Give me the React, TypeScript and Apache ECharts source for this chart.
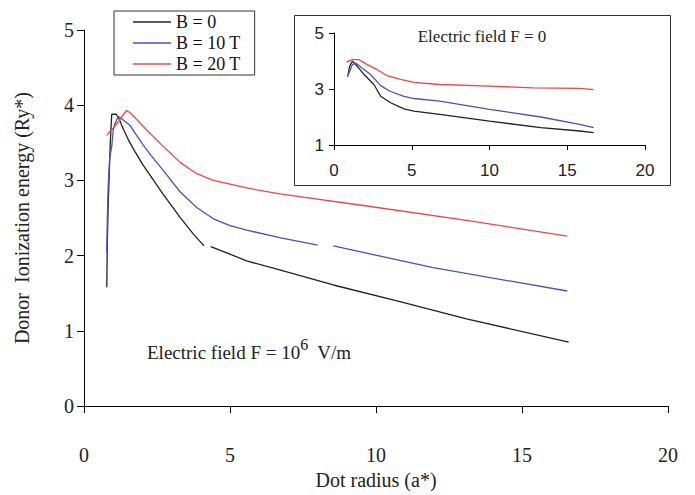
import React, { useEffect, useRef } from "react";
import * as echarts from "echarts";

// ---- Main chart data (Electric field F = 10^6 V/m) ----
const mainB0X = [0.78, 0.8, 0.83, 0.86, 0.9, 0.95, 1.1, 1.2, 1.35, 1.52, 1.75, 2.03, 2.26, 2.72, 3.29, 3.74, 4.11, 4.22, 4.34, 5.0, 5.57, 6.7, 8.54, 10.82, 13.1, 16.6];
const mainB0Y = [1.58, 2.2, 2.7, 3.03, 3.5, 3.88, 3.88, 3.82, 3.68, 3.54, 3.38, 3.2, 3.07, 2.81, 2.51, 2.29, 2.13, null, 2.12, 2.02, 1.93, 1.81, 1.61, 1.39, 1.16, 0.85];

const mainB10X = [0.78, 0.8, 0.83, 0.88, 0.95, 1.0, 1.06, 1.17, 1.29, 1.58, 1.75, 2.03, 2.3, 2.72, 3.29, 3.86, 4.43, 5.0, 5.57, 6.7, 8.0, 8.27, 8.54, 11.96, 16.55];
const mainB10Y = [2.04, 2.5, 2.94, 3.3, 3.45, 3.67, 3.75, 3.85, 3.82, 3.73, 3.63, 3.47, 3.33, 3.13, 2.85, 2.64, 2.49, 2.4, 2.34, 2.24, 2.14, null, 2.13, 1.84, 1.53];

const mainB20X = [0.78, 1.12, 1.3, 1.46, 1.58, 2.15, 2.72, 3.29, 3.86, 4.43, 5.0, 5.57, 6.7, 9.68, 13.1, 16.55];
const mainB20Y = [3.6, 3.75, 3.85, 3.93, 3.9, 3.67, 3.45, 3.24, 3.09, 3.0, 2.95, 2.9, 2.82, 2.66, 2.47, 2.26];

// ---- Inset data (Electric field F = 0) ----
const insetB0X = [0.9, 1.0, 1.18, 1.5, 1.93, 2.57, 3.0, 3.64, 4.5, 5.13, 6.8, 10, 13.3, 15.8, 16.7];
const insetB0Y = [3.5, 3.8, 3.99, 3.81, 3.52, 3.16, 2.74, 2.51, 2.29, 2.21, 2.09, 1.85, 1.62, 1.5, 1.44];

const insetB10X = [0.86, 1.18, 1.4, 1.8, 2.35, 3.0, 3.6, 4.5, 5.13, 6.8, 10, 13.3, 15.8, 16.7];
const insetB10Y = [3.43, 3.87, 3.93, 3.75, 3.52, 3.12, 2.92, 2.74, 2.66, 2.57, 2.27, 2.0, 1.74, 1.62];

const insetB20X = [0.81, 1.18, 1.6, 2.14, 2.78, 3.4, 4.28, 5.13, 6.8, 10, 12.8, 15.8, 16.7];
const insetB20Y = [3.96, 4.05, 4.05, 3.87, 3.69, 3.48, 3.34, 3.24, 3.16, 3.1, 3.04, 3.02, 2.98];

const seriesNames = ["B = 0", "B = 10 T", "B = 20 T"];
const seriesColors = ["#222222", "#4a50bd", "#f04545"];

const SERIF = "'Liberation Serif', 'Times New Roman', serif";
const SANS = "'Liberation Sans', Arial, sans-serif";

function zip(xs: number[], ys: (number | null)[]) {
  return xs.map((x, i) => [x, ys[i] === null ? "-" : ys[i]]);
}

export default function App() {
  const ref = useRef<HTMLDivElement>(null);
  useEffect(() => {
    if (!ref.current) return;
    const chart = echarts.init(ref.current, undefined, { renderer: "svg" });
    const mainData = [zip(mainB0X, mainB0Y), zip(mainB10X, mainB10Y), zip(mainB20X, mainB20Y)];
    const insetData = [zip(insetB0X, insetB0Y), zip(insetB10X, insetB10Y), zip(insetB20X, insetB20Y)];
    const lineSeries = (name: string, data: any[], color: string, idx: number) => ({
      type: "line",
      name,
      data,
      xAxisIndex: idx,
      yAxisIndex: idx,
      showSymbol: false,
      symbol: "none",
      connectNulls: false,
      lineStyle: { color, width: 1.3 },
      itemStyle: { color },
      z: 3,
    });
    const axisCommon = {
      axisLine: { show: true, lineStyle: { color: "#000", width: 1 } },
      axisTick: { show: true, length: 7, lineStyle: { color: "#000" } },
      splitLine: { show: false },
    };
    chart.setOption({
      animation: false,
      backgroundColor: "#ffffff",
      legend: {
        data: seriesNames.map((n) => ({ name: n, icon: "rect" })),
        orient: "vertical",
        left: 114,
        top: 11,
        itemWidth: 38,
        itemHeight: 1.6,
        itemGap: 3,
        padding: [2, 14, 2, 19],
        borderColor: "#333",
        borderWidth: 1,
        backgroundColor: "#fff",
        selectedMode: false,
        textStyle: { fontFamily: SERIF, fontSize: 18, color: "#111" },
      },
      grid: [
        { left: 84, top: 30, width: 584, height: 388 },
        { left: 334, top: 33, width: 311, height: 112 },
      ],
      xAxis: [
        {
          ...axisCommon,
          type: "value",
          gridIndex: 0,
          min: 0,
          max: 20,
          interval: 5,
          name: "Dot radius (a*)",
          nameLocation: "middle",
          nameGap: 56,
          nameTextStyle: { fontFamily: SERIF, fontSize: 20, color: "#222" },
          axisLabel: { margin: 39, fontFamily: SERIF, fontSize: 20, color: "#222" },
        },
        {
          ...axisCommon,
          type: "value",
          gridIndex: 1,
          min: 0,
          max: 20,
          interval: 5,
          axisTick: { show: true, length: 5, lineStyle: { color: "#000" } },
          axisLabel: { margin: 17, fontFamily: SANS, fontSize: 17, color: "#222" },
        },
      ],
      yAxis: [
        {
          ...axisCommon,
          type: "value",
          gridIndex: 0,
          min: 0,
          max: 5,
          interval: 1,
          name: "Donor  Ionization energy (Ry*)",
          nameLocation: "middle",
          nameGap: 52,
          nameTextStyle: { fontFamily: SERIF, fontSize: 20, color: "#222" },
          axisLabel: { margin: 10, fontFamily: SERIF, fontSize: 20, color: "#222" },
        },
        {
          ...axisCommon,
          type: "value",
          gridIndex: 1,
          min: 1,
          max: 5,
          interval: 2,
          axisTick: { show: true, length: 5, lineStyle: { color: "#000" } },
          axisLabel: { margin: 10, fontFamily: SANS, fontSize: 17, color: "#222" },
        },
      ],
      graphic: [
        {
          type: "rect",
          shape: { x: 294.5, y: 15.5, width: 376, height: 170 },
          style: { fill: "rgba(0,0,0,0)", stroke: "#333", lineWidth: 1 },
          z: 1,
        },
        {
          type: "text",
          x: 482,
          y: 36,
          style: {
            text: "Electric field F = 0",
            fontFamily: SERIF,
            fontSize: 17,
            fill: "#222",
            align: "center",
            verticalAlign: "middle",
          },
        },
        {
          type: "text",
          x: 147,
          y: 349,
          style: {
            text: "{a|Electric field F = 10}{b|6}{a|  V/m}",
            fontFamily: SERIF,
            fill: "#222",
            align: "left",
            verticalAlign: "middle",
            rich: {
              a: { fontFamily: SERIF, fontSize: 19, lineHeight: 26, verticalAlign: "bottom", fill: "#222" },
              b: { fontFamily: SERIF, fontSize: 16, lineHeight: 16, verticalAlign: "top", fill: "#222" },
            },
          },
        },
      ],
      series: [
        ...mainData.map((d, i) => lineSeries(seriesNames[i], d, seriesColors[i], 0)),
        ...insetData.map((d, i) => lineSeries(seriesNames[i] + " (F = 0)", d, seriesColors[i], 1)),
      ],
    });
    return () => chart.dispose();
  }, []);
  return (
    <div
      ref={ref}
      style={{ position: "fixed", left: 0, top: 0, width: 695, height: 495 }}
    />
  );
}
